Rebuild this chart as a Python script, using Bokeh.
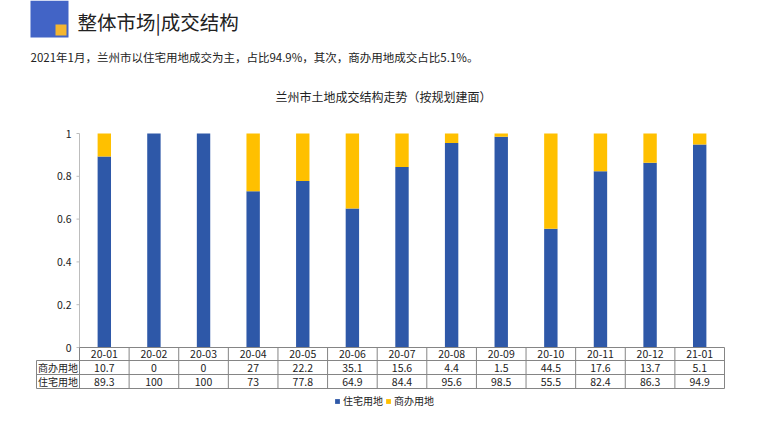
from bokeh.plotting import figure
from bokeh.models import Range1d, ColumnDataSource, Legend, LegendItem
from bokeh.core.properties import value
from bokeh.embed import file_html
from bokeh.resources import INLINE

# ---------------- data ----------------
categories = ["20-01", "20-02", "20-03", "20-04", "20-05", "20-06", "20-07",
              "20-08", "20-09", "20-10", "20-11", "20-12", "21-01"]
residential = [89.3, 100, 100, 73, 77.8, 64.9, 84.4, 95.6, 98.5, 55.5, 82.4, 86.3, 94.9]
commercial = [10.7, 0, 0, 27, 22.2, 35.1, 15.6, 4.4, 1.5, 44.5, 17.6, 13.7, 5.1]
series_names = ["住宅用地", "商办用地"]
y_ticks = [0, 0.2, 0.4, 0.6, 0.8, 1]
y_tick_labels = ["0", "0.2", "0.4", "0.6", "0.8", "1"]
header_title = "整体市场|成交结构"
header_subtitle = "2021年1月，兰州市以住宅用地成交为主，占比94.9%，其次，商办用地成交占比5.1%。"
chart_title = "兰州市土地成交结构走势（按规划建面）"

# ---------------- layout (pixels) ----------------
W, H = 771, 432
PL, PR, PT, PB = 79, 724, 133, 347      # plot area of the bars
TL = 36                                  # table left edge
ROW1, ROW2, ROW3 = 360, 374, 388         # table row bottoms
n = len(categories)
col = (PR - PL) / n
unit = PB - PT
xs = -0.5 - PL / col
xe = n - 0.5 + (W - PR) / col
ys = -(H - PB) / unit
ye = 1 + PT / unit


def X(px):
    return xs + px / col


def Y(py):
    return 1 - (py - PT) / unit


BLUE = "#2E58A8"
YELLOW = "#FFC000"
FONT_NAME = "Noto Sans CJK SC"
FONT = value(FONT_NAME)
TEXT = "#222222"
GRID = "#858585"

p = figure(width=W, height=H, output_backend="svg", toolbar_location=None,
           x_range=Range1d(xs, xe), y_range=Range1d(ys, ye),
           x_axis_location=None, y_axis_location=None,
           min_border=0, min_border_left=0, min_border_right=0,
           min_border_top=0, min_border_bottom=0)
p.grid.visible = False
p.outline_line_color = None
p.background_fill_color = "white"
p.border_fill_color = "white"

# ---------------- header ----------------
p.quad(left=[X(30)], right=[X(68)], top=[Y(0)], bottom=[Y(37)],
       fill_color="#4264C6", line_color=None)
p.quad(left=[X(55)], right=[X(66)], top=[Y(24)], bottom=[Y(35)],
       fill_color="#F4B630", line_color=None)
p.text(x=[X(77)], y=[Y(21)], text=[header_title], text_font=FONT,
       text_font_size="19.5px", text_color=TEXT, text_baseline="middle", text_align="left")
p.text(x=[X(30)], y=[Y(56)], text=[header_subtitle], text_font=FONT,
       text_font_size="11.5px", text_color=TEXT, text_baseline="middle", text_align="left")
p.text(x=[X(383)], y=[Y(96)], text=[chart_title], text_font=FONT,
       text_font_size="12px", text_color=TEXT, text_baseline="middle", text_align="center")

# ---------------- bars ----------------
idx = list(range(n))
res_share = [v / 100 for v in residential]
com_share = [v / 100 for v in commercial]
src = ColumnDataSource(dict(
    x=idx, cat=categories,
    res=res_share, stack=[a + b for a, b in zip(res_share, com_share)],
    res_txt=[f"{v:g}" for v in residential],
    com_txt=[f"{v:g}" for v in commercial],
))
r_res = p.vbar(x="x", bottom=0, top="res", width=0.27, source=src,
               fill_color=BLUE, line_color=None)
r_com = p.vbar(x="x", bottom="res", top="stack", width=0.27, source=src,
               fill_color=YELLOW, line_color=None)

# ---------------- y axis ----------------
p.segment(x0=[-0.5], x1=[-0.5], y0=[0], y1=[1], line_color="#bdbdbd", line_width=1)
p.segment(x0=[-0.5 - 3 / col] * len(y_ticks), x1=[-0.5] * len(y_ticks),
          y0=y_ticks, y1=y_ticks, line_color="#bdbdbd", line_width=1)
p.text(x=[-0.5 - 8 / col] * len(y_ticks), y=y_ticks, text=y_tick_labels,
       text_font=FONT, text_font_size="10.5px", text_color=TEXT,
       text_align="right", text_baseline="middle")

# ---------------- table ----------------
# horizontal rules
p.segment(x0=[-0.5], x1=[n - 0.5], y0=[0], y1=[0], line_color=GRID, line_width=1)
p.segment(x0=[X(TL)] * 3, x1=[n - 0.5] * 3, y0=[Y(ROW1), Y(ROW2), Y(ROW3)],
          y1=[Y(ROW1), Y(ROW2), Y(ROW3)], line_color=GRID, line_width=1)
# vertical rules
bounds = [i - 0.5 for i in range(n + 1)]
p.segment(x0=bounds, x1=bounds, y0=[0] * len(bounds), y1=[Y(ROW3)] * len(bounds),
          line_color=GRID, line_width=1)
p.segment(x0=[X(TL)], x1=[X(TL)], y0=[Y(ROW1)], y1=[Y(ROW3)], line_color=GRID, line_width=1)
# cell texts
p.text(x="x", y=Y((PB + ROW1) / 2), text="cat", source=src, text_font=FONT,
       text_font_size="10.5px", text_color=TEXT, text_align="center", text_baseline="middle")
p.text(x="x", y=Y((ROW1 + ROW2) / 2), text="com_txt", source=src, text_font=FONT,
       text_font_size="10.5px", text_color=TEXT, text_align="center", text_baseline="middle")
p.text(x="x", y=Y((ROW2 + ROW3) / 2), text="res_txt", source=src, text_font=FONT,
       text_font_size="10.5px", text_color=TEXT, text_align="center", text_baseline="middle")
# row headers
p.text(x=[X((TL + PL) / 2)] * 2, y=[Y((ROW1 + ROW2) / 2), Y((ROW2 + ROW3) / 2)],
       text=[series_names[1], series_names[0]], text_font=FONT,
       text_font_size="10px", text_color=TEXT, text_align="center", text_baseline="middle")

# ---------------- legend ----------------
legend = Legend(items=[LegendItem(label=series_names[0], renderers=[r_res]),
                       LegendItem(label=series_names[1], renderers=[r_com])],
                orientation="horizontal", location=(334, 24),
                glyph_width=6, glyph_height=6, label_standoff=3, spacing=2,
                padding=0, margin=0, border_line_color=None,
                background_fill_alpha=0, label_text_font=FONT_NAME,
                label_text_font_size="10px", label_text_color=TEXT,
                label_height=12)
p.add_layout(legend, "center")

open("out.html", "w").write(file_html(p, INLINE))
